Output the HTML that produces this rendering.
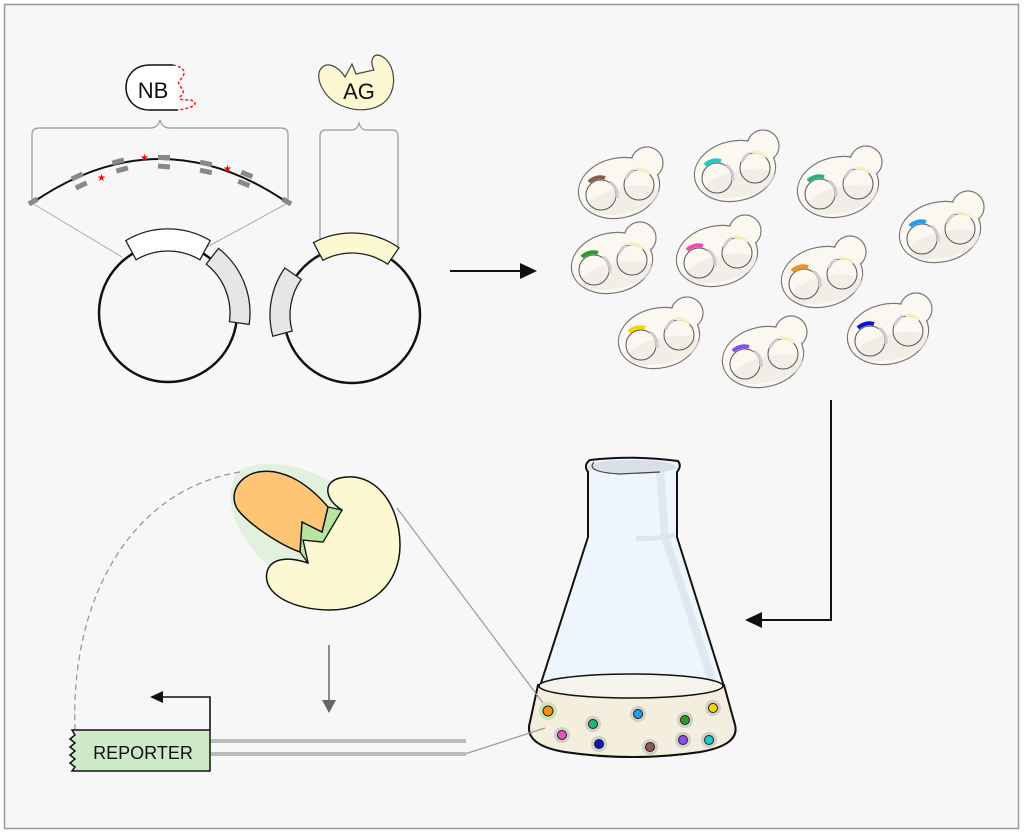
<!DOCTYPE html>
<html><head><meta charset="utf-8"><style>
html,body{margin:0;padding:0;background:#fff}
svg{display:block}
text{font-family:"Liberation Sans","DejaVu Sans",sans-serif}
</style></head><body>
<svg width="1024" height="834" viewBox="0 0 1024 834" xmlns="http://www.w3.org/2000/svg">
<defs>
<g id="cell">
  <circle cx="28" cy="-25" r="16" fill="#fbf8f2" stroke="#777" stroke-width="1.2"/>
  <ellipse cx="0" cy="0" rx="41" ry="30" transform="rotate(-12)" fill="#fbf8f2" stroke="#777" stroke-width="1.2"/>
  <circle cx="28" cy="-25" r="15.2" fill="#fbf8f2"/>
  <ellipse cx="2" cy="13" rx="36" ry="13" transform="rotate(-12)" fill="#ece8e0" opacity="0.6"/>
  <circle cx="-18" cy="7" r="15" fill="none" stroke="#555" stroke-width="1"/>
  <circle cx="20" cy="-3" r="15" fill="none" stroke="#555" stroke-width="1"/>
  <path d="M-9,-6 A16,16 0 0 1 -2,10" fill="none" stroke="#ccc" stroke-width="3"/>
  <path d="M7,-9 A16,16 0 0 1 15,-18" fill="none" stroke="#ccc" stroke-width="3"/>
  <path d="M17,-19 A16,16 0 0 1 31,-14" fill="none" stroke="#f4f0c0" stroke-width="3"/>
</g>
</defs>
<rect x="0" y="0" width="1024" height="834" fill="#fff"/>
<rect x="4.5" y="4.5" width="1014" height="824" fill="#f7f7f7" stroke="#999" stroke-width="1.5"/>

<!-- NB -->
<path d="M173,65 L150,65 C118,65 118,110 150,110 L178,110" fill="#fff" stroke="#111" stroke-width="1.5"/>
<path d="M173,65 C188,68 185,75 180,80 C175,85 185,88 183,93 C180,98 175,100 190,100 C200,102 195,108 178,110" fill="none" stroke="#e22" stroke-width="1.5" stroke-dasharray="3,2"/>
<rect x="148" y="66" width="30" height="43" fill="#fff"/>
<text x="153" y="98" font-size="22" text-anchor="middle" fill="#111">NB</text>
<!-- AG -->
<path d="M345,77 L352,64 L356,74 L374,70 C370,62 372,55 378,55 C392,58 398,80 390,95 C382,110 360,114 340,105 C325,98 315,80 320,70 C326,60 338,66 345,77 Z" fill="#fcf9d2" stroke="#444" stroke-width="1.2"/>
<text x="359" y="99" font-size="22" text-anchor="middle" fill="#111">AG</text>

<!-- braces -->
<path d="M32,203 L32,134 Q32,128 40,128 L150,128 Q158,128 160,120 Q162,128 170,128 L280,128 Q288,128 288,134 L288,203" fill="none" stroke="#999" stroke-width="1.2"/>
<path d="M320,248 L320,136 Q320,130 326,130 L352,130 Q357,130 359,123 Q361,130 366,130 L392,130 Q398,130 398,136 L398,248" fill="none" stroke="#999" stroke-width="1.2"/>
<line x1="32" y1="203" x2="122" y2="257" stroke="#aaa" stroke-width="1"/>
<line x1="288" y1="203" x2="207" y2="247" stroke="#aaa" stroke-width="1"/>

<!-- NB gene arc -->
<path d="M32,203 Q160,115 288,203" fill="none" stroke="#111" stroke-width="2"/>
<g fill="#888">
<rect x="28" y="199" width="10" height="5" transform="rotate(-30 33 201)"/>
<rect x="282" y="199" width="10" height="5" transform="rotate(30 287 201)"/>
<rect x="71" y="174" width="12" height="5" transform="rotate(-25 77 176)"/>
<rect x="75" y="183" width="12" height="5" transform="rotate(-25 81 185)"/>
<rect x="112" y="159" width="12" height="5" transform="rotate(-15 118 161)"/>
<rect x="116" y="167" width="12" height="5" transform="rotate(-15 122 169)"/>
<rect x="158" y="155" width="12" height="5"/>
<rect x="158" y="164" width="12" height="5" transform="rotate(5 164 166)"/>
<rect x="200" y="161" width="12" height="5" transform="rotate(12 206 163)"/>
<rect x="200" y="169" width="12" height="5" transform="rotate(12 206 171)"/>
<rect x="241" y="172" width="12" height="5" transform="rotate(22 247 174)"/>
<rect x="238" y="181" width="12" height="5" transform="rotate(22 244 183)"/>
</g>
<g fill="#f00" font-size="10"><text x="97" y="181">★</text><text x="140" y="161">★</text><text x="223" y="172">★</text></g>

<!-- plasmids -->
<circle cx="168" cy="313" r="69" fill="none" stroke="#111" stroke-width="2.5"/>
<path d="M125.8,240.6 A82 82 0 0 1 210.2,240.6 L199.9,259.8 A62 62 0 0 0 136.1,259.8 Z" fill="#fff" stroke="#222" stroke-width="1.3"/>
<path d="M218.5,248.4 A82 82 0 0 1 249.2,324.4 L229.4,321.6 A62 62 0 0 0 206.2,264.1 Z" fill="#e6e6e6" stroke="#222" stroke-width="1.3"/>
<circle cx="352" cy="315" r="68" fill="none" stroke="#111" stroke-width="2.5"/>
<path d="M313.5,242.6 A82 82 0 0 1 399,247.8 L387.6,264.2 A62 62 0 0 0 322.9,260.3 Z" fill="#fcf9d2" stroke="#222" stroke-width="1.3"/>
<path d="M284.8,268 L301.2,279.4 A62 62 0 0 0 292.1,331 L272.8,336.2 A82 82 0 0 1 284.8,268 Z" fill="#e6e6e6" stroke="#222" stroke-width="1.3"/>

<!-- arrows -->
<line x1="450" y1="271" x2="522" y2="271" stroke="#111" stroke-width="2"/>
<path d="M537,271 L520,263 L520,279 Z" fill="#111"/>
<path d="M831,400 L831,620 L760,620" fill="none" stroke="#111" stroke-width="2"/>
<path d="M745,620 L762,612 L762,628 Z" fill="#111"/>

<!-- yeast cells -->
<use href="#cell" x="619" y="188"/><path d="M589,182 A16 16 0 0 1 605,178" fill="none" stroke="#8b5a4a" stroke-width="4"/>
<use href="#cell" x="735" y="171"/><path d="M705,165 A16 16 0 0 1 721,161" fill="none" stroke="#1cc9cc" stroke-width="4"/>
<use href="#cell" x="838" y="187"/><path d="M808,181 A16 16 0 0 1 824,177" fill="none" stroke="#1ab87a" stroke-width="4"/>
<use href="#cell" x="612" y="263"/><path d="M582,257 A16 16 0 0 1 598,253" fill="none" stroke="#2a9a2a" stroke-width="4"/>
<use href="#cell" x="717" y="256"/><path d="M687,250 A16 16 0 0 1 703,246" fill="none" stroke="#e94fb0" stroke-width="4"/>
<use href="#cell" x="822" y="277"/><path d="M792,271 A16 16 0 0 1 808,267" fill="none" stroke="#f5900f" stroke-width="4"/>
<use href="#cell" x="940" y="232"/><path d="M910,226 A16 16 0 0 1 926,222" fill="none" stroke="#1a9ef0" stroke-width="4"/>
<use href="#cell" x="659" y="338"/><path d="M629,332 A16 16 0 0 1 645,328" fill="none" stroke="#f3d500" stroke-width="4"/>
<use href="#cell" x="763" y="357"/><path d="M733,351 A16 16 0 0 1 749,347" fill="none" stroke="#8a4cf0" stroke-width="4"/>
<use href="#cell" x="888" y="334"/><path d="M858,328 A16 16 0 0 1 874,324" fill="none" stroke="#0a18c8" stroke-width="4"/>

<!-- flask -->
<path d="M590,460 Q632,455 678,461 Q682,466 677,472 L677,537 L722,680 L735,725 Q740,745 700,752 Q632,762 565,752 Q523,745 530,722 L542,680 L588,537 L588,472 Q583,465 590,460 Z" fill="#eef5fc" stroke="#111" stroke-width="2"/>
<path d="M660,470 L665,537 L712,680" fill="none" stroke="#dfe7f0" stroke-width="8"/>
<path d="M636,538 Q655,540 675,535" fill="none" stroke="#dfe5ee" stroke-width="5"/>
<ellipse cx="632" cy="467" rx="44" ry="7" fill="#d8dfe8"/>
<path d="M594,462 Q585,472 620,474 L660,472" fill="none" stroke="#444" stroke-width="1.2"/>
<path d="M538,685 Q632,665 724,685 L735,725 Q740,745 700,752 Q632,762 565,752 Q523,745 530,722 Z" fill="#f3eedd" stroke="#111" stroke-width="2"/>
<ellipse cx="631" cy="686" rx="92" ry="12" fill="#f4f3ec" stroke="#111" stroke-width="1.5"/>
<g stroke="#222" stroke-width="1">
<circle cx="548" cy="711" r="9" fill="#b6e0a0" stroke="none" opacity="0.7"/>
<circle cx="548" cy="711" r="5" fill="#f5900f"/>
<circle cx="562" cy="735" r="8" fill="#bbb" stroke="none" opacity="0.6"/><circle cx="562" cy="735" r="4.5" fill="#e94fb0"/>
<circle cx="593" cy="724" r="8" fill="#bbb" stroke="none" opacity="0.6"/><circle cx="593" cy="724" r="4.5" fill="#1ab87a"/>
<circle cx="599" cy="744" r="8" fill="#bbb" stroke="none" opacity="0.6"/><circle cx="599" cy="744" r="4.5" fill="#0a18c8"/>
<circle cx="638" cy="714" r="8" fill="#bbb" stroke="none" opacity="0.6"/><circle cx="638" cy="714" r="4.5" fill="#1a9ef0"/>
<circle cx="650" cy="747" r="8" fill="#bbb" stroke="none" opacity="0.6"/><circle cx="650" cy="747" r="4.5" fill="#8b5a4a"/>
<circle cx="685" cy="720" r="8" fill="#bbb" stroke="none" opacity="0.6"/><circle cx="685" cy="720" r="4.5" fill="#2a9a2a"/>
<circle cx="683" cy="740" r="8" fill="#bbb" stroke="none" opacity="0.6"/><circle cx="683" cy="740" r="4.5" fill="#8a4cf0"/>
<circle cx="713" cy="708" r="8" fill="#bbb" stroke="none" opacity="0.6"/><circle cx="713" cy="708" r="4.5" fill="#f3d500"/>
<circle cx="709" cy="740" r="8" fill="#bbb" stroke="none" opacity="0.6"/><circle cx="709" cy="740" r="4.5" fill="#1cc9cc"/>
</g>

<!-- zoom lines -->
<line x1="397" y1="508" x2="543" y2="703" stroke="#999" stroke-width="1.2"/>
<line x1="465" y1="754" x2="545" y2="728" stroke="#999" stroke-width="1.2"/>

<!-- protein complex -->
<path d="M240,470 C270,455 320,470 340,490 C350,520 320,560 300,575 C270,580 240,540 232,510 C228,490 232,478 240,470 Z" fill="#dcefd6" opacity="0.8"/>
<path d="M342,510 C325,500 322,482 340,478 C375,470 400,505 400,545 C400,585 370,610 330,610 C295,610 262,595 267,572 C270,560 285,555 308,563 L303,540 L323,542 Z" fill="#fcf9d2" stroke="#111" stroke-width="1.5"/>
<path d="M300,552 L308,563 L303,540 L323,542 L342,510 L328,507 L322,532 L302,522 Z" fill="#b9e3a0" stroke="#111" stroke-width="1.2"/>
<path d="M300,552 L302,522 L322,532 L328,507 C305,480 280,468 258,472 C238,476 228,495 238,510 C250,525 280,545 300,552 Z" fill="#fdc574" stroke="#111" stroke-width="1.5"/>
<path d="M240,472 C130,490 70,600 75,730" fill="none" stroke="#999" stroke-width="1.3" stroke-dasharray="6,4"/>

<line x1="329" y1="645" x2="329" y2="702" stroke="#666" stroke-width="1.5"/>
<path d="M322,700 L336,700 L329,713 Z" fill="#666"/>

<!-- reporter -->
<line x1="210" y1="741" x2="466" y2="741" stroke="#bbb" stroke-width="4"/>
<line x1="210" y1="754" x2="466" y2="754" stroke="#bbb" stroke-width="4"/>
<path d="M72,730 L210,730 L210,771 L72,771 L75,767 L70,763 L75,759 L70,755 L75,751 L70,747 L75,743 L70,739 L75,735 Z" fill="#cde9c8" stroke="#111" stroke-width="1.5"/>
<text x="143" y="759" font-size="18" text-anchor="middle" fill="#111">REPORTER</text>
<path d="M210,730 L210,697 L162,697" fill="none" stroke="#111" stroke-width="1.6"/>
<path d="M150,697 L163,691 L163,703 Z" fill="#111"/>
</svg>
</body></html>
